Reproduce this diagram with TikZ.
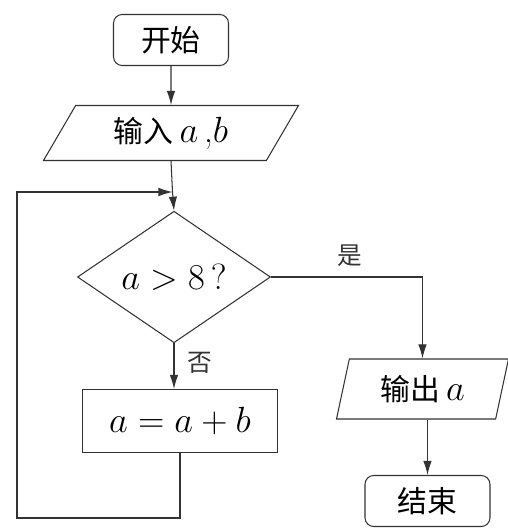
\documentclass[tikz,border=0pt]{standalone}
\usepackage{fontspec}
\newfontfamily\cjk{Noto Sans CJK SC}
\usetikzlibrary{shapes.geometric,arrows.meta}

\begin{document}
\begin{tikzpicture}[
  line/.style={black!80, line width=0.6pt},
  arrow/.style={line, -{Latex[length=2.8mm,width=1.7mm]}},
  box/.style={draw=black!80, line width=0.6pt, inner sep=0pt, font=\fontsize{20}{24}\selectfont},
  terminal/.style={box, rounded corners=5pt, minimum width=2.3cm, minimum height=1.02cm},
  io/.style={box, trapezium, trapezium stretches body},
  decision/.style={box, diamond, minimum width=3.86cm, minimum height=1.62cm},
  process/.style={box, minimum width=3.9cm, minimum height=1.26cm},
  tag/.style={font=\cjk\fontsize{14}{16}\selectfont, inner sep=0pt}
]
  \useasboundingbox (0,0) rectangle (10.16,10.64);

  % Boxes of the main column
  \node[terminal] (start) at (3.42,9.84) {\cjk\fontsize{17}{20}\selectfont 开始};
  \node[io, trapezium left angle=45, trapezium right angle=135,
        minimum width=5.1cm, minimum height=1.1cm] (input) at (3.42,7.98)
        {{\cjk\fontsize{17}{20}\selectfont 输入}\,$a$\,,$b$};
  \coordinate (join) at (3.45,6.8);
  \node[decision] (test) at (3.48,5.1) {$a>8\,?$};
  \node[process] (step) at (3.6,2.22) {$a=a+b$};

  % Boxes of the right column
  \node[io, trapezium left angle=65, trapezium right angle=115,
        minimum width=3.44cm, minimum height=1.2cm] (output) at (8.45,2.86)
        {{\cjk\fontsize{17}{20}\selectfont 输出}$\,a$};
  \node[terminal, minimum width=2.5cm] (stop) at (8.55,0.62) {\cjk\fontsize{17}{20}\selectfont 结束};

  % Flow lines
  \draw[arrow] (start) -- (input);
  \draw[line] (input.south) -- (join);
  \draw[arrow] (join) -- (test.north);
  \draw[arrow] (test.east) -| node[tag, pos=0.26, above=0.2cm] {是} (output.north);
  \draw[arrow] (test.south) -- node[tag, pos=0.42, right=0.25cm] {否} (step.north -| test.south);
  \draw[arrow] (output.south -| stop.north) -- (stop.north);

  % Loop back
  \draw[arrow] (step.south) |- (0.34,0.28) |- (join);
\end{tikzpicture}
\end{document}
